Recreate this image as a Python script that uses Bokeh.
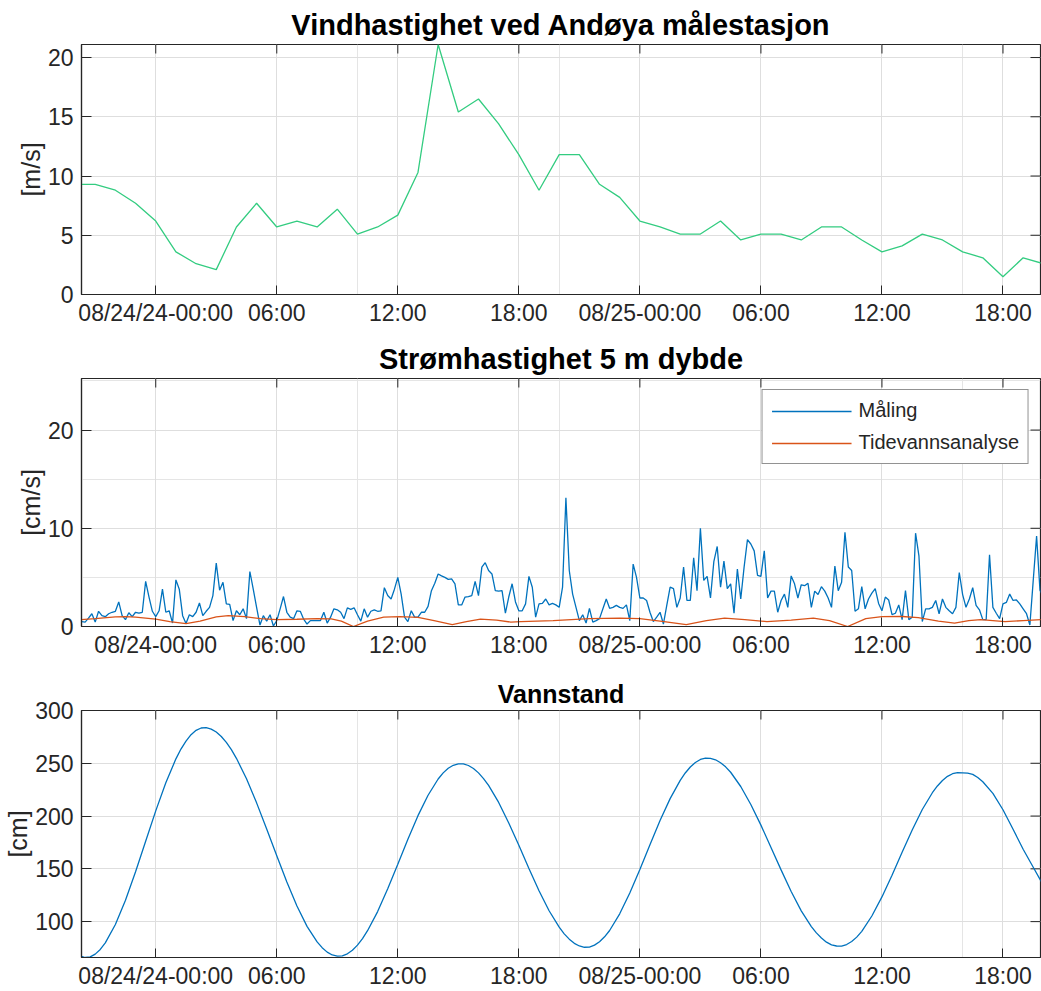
import numpy as np
from bokeh.plotting import figure
from bokeh.layouts import column
from bokeh.models import (FixedTicker, LinearAxis, Range1d, Legend, LegendItem, Grid)
from bokeh.embed import file_html
from bokeh.resources import INLINE

FONT = "Liberation Sans"
AX = "#262626"
GRID = "#dedede"

# ---- time axis: hours relative to 2024-08-24 00:00 ----
x_lo, x_hi = -3.68, 43.86
tick_hours = [0, 6, 12, 18, 24, 30, 36, 42]
tick_labels_a = ["08/24/24-00:00", "06:00", "12:00", "18:00", "08/25-00:00", "06:00", "12:00", "18:00"]
tick_labels_b = ["08/24-00:00", "06:00", "12:00", "18:00", "08/25-00:00", "06:00", "12:00", "18:00"]

# ---- wind speed (hourly, from 08/23 20:00) ----
wind_hours = list(range(-4, 45))
wind_speed = [9.3, 9.3, 8.8, 7.7, 6.2, 3.6, 2.6, 2.1, 5.7, 7.7,
              5.7, 6.2, 5.7, 7.2, 5.1, 5.7, 6.7, 10.3, 21.1, 15.4,
              16.5, 14.4, 11.8, 8.8, 11.8, 11.8, 9.3, 8.2, 6.2, 5.7,
              5.1, 5.1, 6.2, 4.6, 5.1, 5.1, 4.6, 5.7, 5.7, 4.6,
              3.6, 4.1, 5.1, 4.6, 3.6, 3.1, 1.5, 3.1, 2.6]

# ---- current speed 5 m depth, measured every 10 min from 08/23 20:20 ----
current_start_hour = -3 - 40 / 60
current_step_hour = 10 / 60
current_meas = [
    0.5, 0.45, 0.85, 1.3, 0.45, 1.55, 1.1, 1.0, 1.3, 1.45,
    1.55, 2.5, 1.1, 0.7, 1.4, 1.0, 1.45, 1.35, 1.45, 4.6,
    3.0, 1.55, 1.0, 1.6, 3.8, 1.45, 1.6, 0.35, 4.75, 3.8,
    1.1, 0.3, 1.2, 1.0, 1.45, 2.4, 1.1, 1.55, 1.95, 3.15,
    6.45, 3.7, 4.5, 2.3, 2.25, 0.6, 1.6, 1.2, 1.8, 0.8,
    5.6, 3.8, 1.95, 0.15, 1.1, 0.55, 1.2, 0.05, 0.6, 1.8,
    3.05, 1.45, 0.95, 0.8, 1.6, 1.55, 0.75, 0.25, 0.6, 0.6,
    0.6, 0.6, 1.45, 0.35, 0.95, 1.8, 1.7, 1.45, 0.8, 1.9,
    1.75, 1.9, 1.2, 0.55, 1.8, 0.95, 1.55, 1.7, 1.55, 1.6,
    3.95, 3.15, 2.8, 3.8, 5.0, 3.3, 0.95, 0.5, 1.6, 0.95,
    0.95, 1.45, 1.45, 2.05, 3.65, 4.4, 5.35, 5.15, 5.0, 4.8,
    4.85, 4.35, 2.2, 2.2, 3.0, 3.05, 3.15, 4.6, 3.15, 6.05,
    6.5, 5.7, 5.35, 3.65, 3.6, 3.65, 1.35, 3.0, 4.35, 2.5,
    1.6, 1.6, 2.3, 5.1, 4.0, 0.95, 2.3, 2.35, 2.8, 2.2,
    2.35, 2.2, 1.95, 4.0, 13.1, 5.7, 3.3, 1.95, 0.6, 1.2,
    0.35, 1.85, 0.45, 0.6, 0.8, 1.8, 2.8, 1.85, 1.95, 2.15,
    1.95, 1.85, 2.2, 0.6, 6.35, 5.0, 2.9, 2.9, 2.65, 1.45,
    0.5, 0.95, 1.45, 0.25, 2.15, 4.0, 3.85, 1.95, 2.9, 6.05,
    2.65, 2.65, 7.0, 3.65, 10.0, 4.7, 5.1, 2.9, 6.6, 8.15,
    4.0, 6.65, 3.85, 4.35, 1.35, 5.85, 2.8, 6.05, 8.85, 8.4,
    7.7, 5.2, 5.1, 7.7, 2.9, 3.6, 3.6, 1.45, 2.65, 3.3,
    1.95, 5.15, 4.35, 2.9, 4.25, 4.15, 4.4, 1.95, 3.6, 3.25,
    4.05, 3.6, 2.9, 1.95, 6.15, 3.65, 4.5, 9.6, 6.05, 5.7,
    1.55, 1.8, 4.05, 1.8, 2.8, 3.4, 3.85, 2.35, 1.6, 3.0,
    2.7, 1.2, 1.35, 2.2, 0.7, 3.65, 0.7, 0.95, 9.5, 7.2,
    0.5, 1.8, 1.8, 1.95, 2.65, 1.3, 2.8, 1.95, 1.6, 1.3,
    1.95, 5.5, 3.25, 1.95, 2.8, 3.95, 2.15, 1.7, 0.7, 0.7,
    7.3, 1.95, 1.35, 0.8, 2.3, 2.45, 3.3, 2.65, 2.7, 2.3,
    1.8, 1.3, 0.15, 4.7, 9.2, 3.7, 3.0]
current_hours = current_start_hour + current_step_hour * np.arange(len(current_meas))

# ---- tidal analysis of current speed ----
tide_current_hours = [-3.7, -3, -2, -1.5, -1, 0, 0.7, 1.5, 2.2, 3, 3.6, 4.4, 5.2, 6, 7, 8, 8.7,
                      9.2, 9.8, 10.5, 11.3, 12.1, 13, 13.8, 14.7, 15.4, 16.1, 16.9, 17.6, 18.1,
                      19.7, 21.5, 23, 24, 25.2, 26.3, 27.3, 28.2, 29.2, 30.3, 31.5, 32.6, 33.4,
                      34.3, 35.2, 36, 37, 37.8, 38.8, 39.6, 40.3, 40.9, 41.5, 42.1, 43, 43.9]
tide_current = [0.7, 0.8, 0.97, 1.0, 0.95, 0.75, 0.5, 0.3, 0.55, 0.97, 1.1, 1.0, 0.8, 0.7, 0.74, 0.8, 0.78,
                0.55, 0.0, 0.55, 0.95, 1.0, 0.93, 0.6, 0.2, 0.5, 0.75, 0.65, 0.45, 0.5,
                0.6, 0.8, 0.85, 0.8, 0.5, 0.2, 0.6, 0.85, 0.7, 0.5, 0.65, 0.85, 0.6,
                0.0, 0.8, 1.0, 1.02, 0.9, 0.55, 0.35, 0.6, 0.7, 0.6, 0.5, 0.6, 0.7]

# ---- water level ----
level_hours = [
    -4.0, -3.75, -3.5, -3.25, -3.0, -2.75, -2.5, -2.0, -1.5, -1.0,
    -0.5, 0.0, 0.5, 1.0, 1.25, 1.5, 1.75, 2.0, 2.25, 2.5,
    2.75, 3.0, 3.25, 3.5, 3.75, 4.0, 4.5, 5.0, 5.5, 6.0,
    6.5, 7.0, 7.5, 8.0, 8.25, 8.5, 8.75, 9.0, 9.25, 9.5,
    9.75, 10.0, 10.25, 10.5, 11.0, 11.5, 12.0, 12.5, 13.0, 13.5,
    14.0, 14.25, 14.5, 14.75, 15.0, 15.25, 15.5, 15.75, 16.0, 16.25,
    16.5, 17.0, 17.5, 18.0, 18.5, 19.0, 19.5, 20.0, 20.25, 20.5,
    20.75, 21.0, 21.25, 21.5, 21.75, 22.0, 22.25, 22.5, 23.0, 23.5,
    24.0, 24.5, 25.0, 25.5, 26.0, 26.25, 26.5, 26.75, 27.0, 27.25,
    27.5, 27.75, 28.0, 28.25, 28.5, 29.0, 29.5, 30.0, 30.5, 31.0,
    31.5, 32.0, 32.5, 32.75, 33.0, 33.25, 33.5, 33.75, 34.0, 34.25,
    34.5, 34.75, 35.0, 35.5, 36.0, 36.5, 37.0, 37.5, 38.0, 38.5,
    38.75, 39.0, 39.25, 39.5, 39.75, 40.0, 40.25, 40.5, 40.75, 41.0,
    41.5, 42.0, 42.5, 43.0, 43.5, 44.0]
water_level = [
    70.5, 67.4, 66.0, 66.6, 69.2, 73.6, 79.8, 97.3, 120.3, 147.2,
    176.1, 204.9, 231.6, 254.2, 263.5, 271.0, 277.1, 281.2, 283.4, 283.7,
    282.4, 279.6, 275.4, 269.8, 262.9, 254.7, 235.4, 212.5, 187.7, 162.3,
    137.5, 114.8, 95.5, 80.8, 75.3, 71.1, 68.4, 67.3, 67.6, 69.5,
    72.9, 77.7, 83.9, 91.4, 109.5, 131.1, 154.4, 178.0, 200.4, 219.7,
    235.1, 240.9, 245.3, 248.1, 249.5, 249.5, 247.9, 245.1, 240.9, 235.5,
    229.0, 212.9, 193.5, 172.3, 150.4, 129.3, 110.3, 94.7, 88.4, 83.4,
    79.4, 76.9, 75.7, 75.9, 77.7, 80.9, 85.6, 91.6, 107.4, 127.1,
    149.4, 172.8, 195.7, 216.5, 233.8, 240.8, 246.5, 250.7, 253.6, 254.9,
    254.7, 253.3, 250.5, 246.6, 241.5, 228.0, 211.0, 191.4, 170.3, 149.0,
    128.5, 110.2, 95.3, 89.3, 84.4, 80.5, 78.0, 76.9, 76.8, 78.3,
    81.1, 85.3, 90.8, 105.3, 123.4, 144.0, 165.7, 186.8, 206.2, 222.1,
    228.5, 233.7, 237.6, 240.1, 241.2, 241.0, 240.6, 239.5, 236.5, 232.5,
    221.5, 206.0, 187.5, 168.5, 151.5, 134.5]


def style_axis(ax, standoff, tick_len):
    ax.axis_line_color = AX
    ax.axis_line_width = 1.2
    ax.major_tick_line_color = AX
    ax.major_tick_line_width = 1
    ax.major_tick_in = tick_len
    ax.major_tick_out = 0
    ax.minor_tick_in = 0
    ax.minor_tick_out = 0
    ax.major_label_text_font = FONT
    ax.major_label_text_color = AX
    ax.major_label_text_font_size = "23px"
    ax.major_label_standoff = standoff
    ax.axis_label_text_font = FONT
    ax.axis_label_text_font_size = "25px"
    ax.axis_label_text_font_style = "normal"
    ax.axis_label_text_color = AX
    ax.axis_label_standoff = 0


def make_panel(height, top, bottom, yr, yticks, ylabel, title, tsize, tstand, xlabels, xstand):
    p = figure(width=1041, height=height,
               x_range=Range1d(x_lo, x_hi), y_range=Range1d(*yr),
               output_backend="svg", toolbar_location=None,
               x_axis_location=None, y_axis_location=None,
               min_border_left=81, min_border_right=1,
               min_border_top=top, min_border_bottom=bottom,
               outline_line_color=AX, outline_line_width=1.2,
               background_fill_color="white", border_fill_color="white")
    xt = FixedTicker(ticks=tick_hours)
    yt = FixedTicker(ticks=yticks)
    p.add_layout(Grid(dimension=0, ticker=xt, grid_line_color=GRID, grid_line_width=1))
    p.add_layout(Grid(dimension=1, ticker=yt, grid_line_color=GRID, grid_line_width=1))

    xb = LinearAxis(ticker=xt, major_label_overrides={h: s for h, s in zip(tick_hours, xlabels)})
    style_axis(xb, xstand, 9)
    p.add_layout(xb, "below")
    yl = LinearAxis(ticker=yt, axis_label=ylabel)
    style_axis(yl, 8, 10)
    p.add_layout(yl, "left")

    # inward ticks on the top and right edges of the box (half of each dash is clipped by the frame)
    p.scatter(tick_hours, [yr[1]] * len(tick_hours), marker="dash", angle=np.pi / 2,
              size=18, line_color=AX, line_width=1)
    p.scatter([x_hi] * len(yticks), yticks, marker="dash", size=20, line_color=AX, line_width=1)

    p.title.text = title
    p.title.align = "center"
    p.title.text_font = FONT
    p.title.text_font_size = tsize
    p.title.text_font_style = "bold"
    p.title.text_color = "black"
    p.title.standoff = tstand
    return p


p1 = make_panel(336, 44, 42, (0, 21.1), [0, 5, 10, 15, 20], "[m/s]",
                "Vindhastighet ved Andøya målestasjon", "29px", 8, tick_labels_a, 5)
p1.line(wind_hours, wind_speed, line_color="#33cc80", line_width=1.3)

p2 = make_panel(332, 42, 42, (0, 25.25), [0, 10, 20], "[cm/s]",
                "Strømhastighet 5 m dybde", "29px", 8, tick_labels_b, 5)
r_meas = p2.line(current_hours, current_meas, line_color="#0072BD", line_width=1.3)
r_tide = p2.line(tide_current_hours, tide_current, line_color="#D95319", line_width=1.3)
legend = Legend(items=[LegendItem(label="Måling", renderers=[r_meas]),
                       LegendItem(label="Tidevannsanalyse", renderers=[r_tide])],
                location="top_right", margin=11, padding=9, spacing=9,
                glyph_width=80, glyph_height=20, label_height=20, label_standoff=7,
                label_text_font=FONT, label_text_font_size="20px", label_text_color=AX,
                border_line_color=AX, border_line_width=1, background_fill_alpha=1.0)
p2.add_layout(legend)

p3 = make_panel(323, 42, 32, (66, 300), [100, 150, 200, 250, 300], "[cm]",
                "Vannstand", "25px", 6, tick_labels_a, 5)
p3.line(level_hours, water_level, line_color="#0072BD", line_width=1.3)

layout = column(p1, p2, p3, spacing=0)
open("out.html", "w").write(file_html(layout, INLINE))
